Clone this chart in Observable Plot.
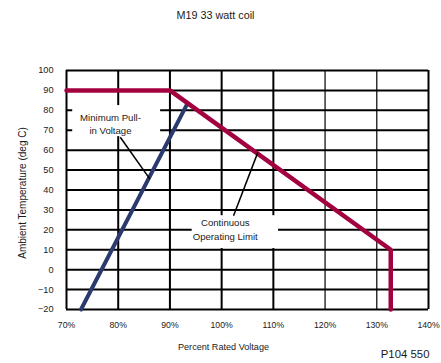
<!DOCTYPE html>
<html>
<head>
<meta charset="utf-8">
<script src="https://cdn.jsdelivr.net/npm/d3@7"></script>
<script src="https://cdn.jsdelivr.net/npm/@observablehq/plot@0.6"></script>
<style>
  html, body { margin: 0; padding: 0; background: #fff; }
</style>
</head>
<body>
<div id="chart"></div>
<script>
// ---- data ----
const title = "M19 33 watt coil";
const xLabel = "Percent Rated Voltage";
const yLabel = "Ambient Temperature (deg C)";
const code = "P104 550";

const xTicks = [70, 80, 90, 100, 110, 120, 130, 140];
const yTicks = [-20, -10, 0, 10, 20, 30, 40, 50, 60, 70, 80, 90, 100];

// Continuous Operating Limit (percent voltage, deg C)
const limitX = [70, 90, 132.7, 132.7];
const limitY = [90, 90, 10, -20];

// Minimum Pull-in Voltage
const pullX = [72.8, 93.3];
const pullY = [-20, 83];

// annotation labels
const labelText = ["Minimum Pull-\nin Voltage", "Continuous\nOperating Limit"];
const labelX = [78.5, 100.7];
const labelY = [73.5, 20.6];
// white boxes behind labels
const boxX1 = [71.2, 94.3];
const boxX2 = [88.2, 111.0];
const boxY1 = [66.8, 10.6];
const boxY2 = [82.4, 27.1];
// leader lines
const leadX1 = [80.4, 102.3];
const leadY1 = [66.5, 27.1];
const leadX2 = [86.1, 107.0];
const leadY2 = [45.6, 58.9];

// ---- tables ----
const limit = limitX.map((x, i) => ({x, y: limitY[i]}));
const pull = pullX.map((x, i) => ({x, y: pullY[i]}));
const labels = labelText.map((t, i) => ({t, x: labelX[i], y: labelY[i]}));
const boxes = boxX1.map((x1, i) => ({x1, x2: boxX2[i], y1: boxY1[i], y2: boxY2[i]}));
const leaders = leadX1.map((x1, i) => ({x1, y1: leadY1[i], x2: leadX2[i], y2: leadY2[i]}));

const font = '"Liberation Sans", Arial, sans-serif';
const ink = "#1a1a1a";

const chart = Plot.plot({
  width: 441,
  height: 363,
  marginLeft: 66,
  marginRight: 13,
  marginTop: 70,
  marginBottom: 54,
  style: {fontFamily: font, fontSize: "10px", background: "#fff", color: ink},
  x: {domain: [70, 140], ticks: xTicks, tickFormat: d => d + "%", label: null},
  y: {domain: [-20, 100], ticks: yTicks, label: null},
  marks: [
    Plot.ruleY(yTicks, {stroke: "#000", strokeWidth: 2}),
    Plot.ruleX(xTicks, {stroke: "#000", strokeWidth: d => (d === 120 || d === 130) ? 1.2 : 2}),
    Plot.rect(boxes, {x1: "x1", x2: "x2", y1: "y1", y2: "y2", fill: "#fff"}),
    Plot.line(pull, {x: "x", y: "y", stroke: "#2b3a6e", strokeWidth: 4}),
    Plot.line(limit, {x: "x", y: "y", stroke: "#a3003f", strokeWidth: 4.5, strokeLinejoin: "miter"}),
    Plot.link(leaders, {x1: "x1", y1: "y1", x2: "x2", y2: "y2", stroke: "#000", strokeWidth: 1.5}),
    Plot.text(labels, {x: "x", y: "y", text: "t", fontSize: 9.6, lineHeight: 1.42, fill: ink}),
    Plot.axisX({ticks: xTicks, tickFormat: d => d + "%", tickSize: 0, tickPadding: 12, fontSize: 8.7, label: null}),
    Plot.axisY({ticks: yTicks, tickSize: 0, tickPadding: 13, fontSize: 9.2, label: null}),
    Plot.text([title], {frameAnchor: "top", textAnchor: "middle", lineAnchor: "middle", dx: -32, dy: -55, fontSize: 10.8, fill: ink}),
    Plot.text([xLabel], {frameAnchor: "bottom", textAnchor: "middle", lineAnchor: "middle", dx: -24, dy: 38, fontSize: 9.1, fill: ink}),
    Plot.text([yLabel], {frameAnchor: "left", textAnchor: "middle", lineAnchor: "middle", dx: -44, dy: 3, rotate: -90, fontSize: 10, fill: ink}),
    Plot.text([code], {frameAnchor: "bottom-right", textAnchor: "end", lineAnchor: "middle", dx: 1, dy: 45, fontSize: 11.4, fill: ink})
  ]
});
document.getElementById("chart").appendChild(chart);
</script>
</body>
</html>
